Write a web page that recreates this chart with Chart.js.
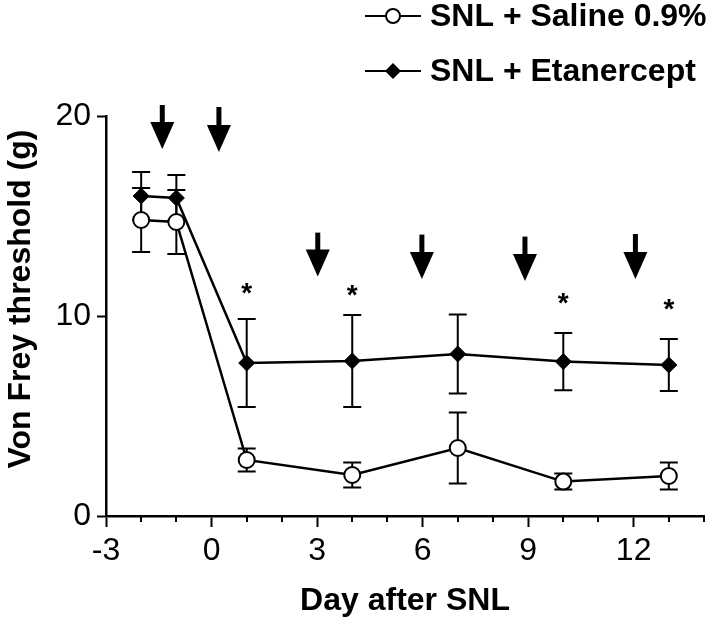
<!DOCTYPE html>
<html>
<head>
<meta charset="utf-8">
<script src="https://cdn.jsdelivr.net/npm/chart.js@4/dist/chart.umd.min.js"></script>
<style>
  html, body { margin: 0; padding: 0; background: #fff; }
  canvas { display: block; }
</style>
</head>
<body>
<canvas id="chart" width="720" height="626"></canvas>
<script>
// values
const days = [-2, -1, 1, 4, 7, 10, 13];
const saline = [14.8, 14.7, 2.8, 2.05, 3.4, 1.72, 2.0];
const salineErr = [1.6, 1.6, 0.57, 0.62, 1.77, 0.4, 0.68];
const etanercept = [16.0, 15.9, 7.65, 7.75, 8.1, 7.72, 7.55];
const etanerceptErr = [1.2, 1.15, 2.2, 2.3, 1.97, 1.43, 1.3];

const xTicks = [-3, 0, 3, 6, 9, 12];
const yTicks = [0, 10, 20];

// significance marks and injection arrows
const starDays = [1, 4, 10, 13];
const starLevels = [11.4, 11.27, 10.9, 10.6];
const arrowDays = [-1.4, 0.21, 3.02, 5.98, 8.91, 12.05];
const arrowTops = [20.55, 20.45, 14.17, 14.07, 13.97, 14.1];
const arrowTips = [18.35, 18.2, 11.97, 11.85, 11.75, 11.85];

const labels = ['SNL + Saline 0.9%', 'SNL + Etanercept'];
const errors = [salineErr, etanerceptErr];

const FONT = '"Liberation Sans", Arial, sans-serif';

const extras = {
  id: 'extras',
  beforeDatasetsDraw(chart) {
    const ctx = chart.ctx;
    const xs = chart.scales.x, ys = chart.scales.y;
    ctx.save();
    ctx.strokeStyle = '#000';
    ctx.lineWidth = 2;
    chart.data.datasets.forEach((ds, i) => {
      ds.data.forEach((pt, j) => {
        const px = xs.getPixelForValue(pt.x);
        const top = ys.getPixelForValue(pt.y + errors[i][j]);
        const bot = ys.getPixelForValue(pt.y - errors[i][j]);
        ctx.beginPath();
        ctx.moveTo(px, top); ctx.lineTo(px, bot);
        ctx.moveTo(px - 9, top); ctx.lineTo(px + 9, top);
        ctx.moveTo(px - 9, bot); ctx.lineTo(px + 9, bot);
        ctx.stroke();
      });
    });
    // minor ticks on x
    const yb = chart.chartArea.bottom;
    ctx.beginPath();
    for (let d = -3; d <= 14; d++) {
      if (xTicks.includes(d)) continue;
      const px = Math.round(xs.getPixelForValue(d));
      ctx.moveTo(px, yb); ctx.lineTo(px, yb + 6);
    }
    ctx.stroke();
    ctx.restore();
  },
  afterDatasetsDraw(chart) {
    const ctx = chart.ctx;
    const xs = chart.scales.x, ys = chart.scales.y;
    ctx.save();
    ctx.fillStyle = '#000';
    // arrows
    arrowDays.forEach((d, i) => {
      const px = xs.getPixelForValue(d);
      const top = ys.getPixelForValue(arrowTops[i]);
      const tip = ys.getPixelForValue(arrowTips[i]);
      const headStart = tip - 27;
      ctx.fillRect(px - 2.5, top, 5, headStart - top + 1);
      ctx.beginPath();
      ctx.moveTo(px - 12, headStart);
      ctx.lineTo(px + 12, headStart);
      ctx.lineTo(px, tip);
      ctx.closePath();
      ctx.fill();
    });
    // stars
    ctx.font = 'bold 28px ' + FONT;
    ctx.textAlign = 'center';
    ctx.textBaseline = 'middle';
    starDays.forEach((d, i) => {
      ctx.fillText('*', xs.getPixelForValue(d), ys.getPixelForValue(starLevels[i]) + 6);
    });
    // y title
    ctx.font = 'bold 32px ' + FONT;
    ctx.translate(21.5, 299);
    ctx.rotate(-Math.PI / 2);
    ctx.fillText('Von Frey threshold (g)', 0, 0);
    ctx.restore();

    // legend
    ctx.save();
    const rows = [16, 71];
    chart.data.datasets.forEach((ds, i) => {
      const y = rows[i];
      ctx.strokeStyle = '#000';
      ctx.lineWidth = 2;
      ctx.beginPath();
      ctx.moveTo(365, y); ctx.lineTo(421, y);
      ctx.stroke();
      const cx = 393;
      ctx.beginPath();
      if (ds.pointStyle === 'circle') {
        ctx.arc(cx, y, 7, 0, Math.PI * 2);
        ctx.fillStyle = '#fff';
        ctx.fill();
        ctx.stroke();
      } else {
        ctx.moveTo(cx, y - 8); ctx.lineTo(cx + 8, y);
        ctx.lineTo(cx, y + 8); ctx.lineTo(cx - 8, y);
        ctx.closePath();
        ctx.fillStyle = '#000';
        ctx.fill();
      }
      ctx.fillStyle = '#000';
      ctx.font = 'bold 32px ' + FONT;
      ctx.textAlign = 'left';
      ctx.textBaseline = 'middle';
      ctx.fillText(ds.label, 430, y + 1);
    });
    ctx.restore();
  }
};

new Chart(document.getElementById('chart').getContext('2d'), {
  type: 'line',
  data: {
    datasets: [
      {
        label: labels[0],
        data: saline.map((v, i) => ({ x: days[i], y: v })),
        borderColor: '#000',
        borderWidth: 2.5,
        pointStyle: 'circle',
        pointRadius: 8,
        pointBorderWidth: 2,
        pointBackgroundColor: '#fff',
        pointBorderColor: '#000',
        tension: 0
      },
      {
        label: labels[1],
        data: etanercept.map((v, i) => ({ x: days[i], y: v })),
        borderColor: '#000',
        borderWidth: 2.5,
        pointStyle: 'rectRot',
        pointRadius: 8,
        pointBorderWidth: 1,
        pointBackgroundColor: '#000',
        pointBorderColor: '#000',
        tension: 0
      }
    ]
  },
  options: {
    responsive: false,
    animation: false,
    devicePixelRatio: 1,
    layout: { padding: { top: 116, right: 16, left: 0, bottom: 0 } },
    plugins: { legend: { display: false }, tooltip: { enabled: false } },
    scales: {
      x: {
        type: 'linear',
        min: -3,
        max: 14,
        afterBuildTicks: (scale) => { scale.ticks = xTicks.map(v => ({ value: v })); },
        afterFit: (scale) => { scale.height = 110; },
        grid: { drawOnChartArea: false, drawTicks: true, tickLength: 11, tickWidth: 2, tickColor: '#000' },
        border: { display: true, color: '#000', width: 2.5 },
        ticks: { color: '#000', padding: 5, font: { family: FONT, size: 32 }, maxRotation: 0 },
        title: {
          display: true,
          text: 'Day after SNL',
          color: '#000',
          font: { family: FONT, size: 32, weight: 'bold' },
          padding: { top: 0, bottom: 6 }
        }
      },
      y: {
        type: 'linear',
        min: 0,
        max: 20,
        afterBuildTicks: (scale) => { scale.ticks = yTicks.map(v => ({ value: v })); },
        afterFit: (scale) => { scale.width = 106; },
        grid: { drawOnChartArea: false, drawTicks: true, tickLength: 9, tickWidth: 2, tickColor: '#000' },
        border: { display: true, color: '#000', width: 2.5 },
        ticks: { color: '#000', padding: 6, font: { family: FONT, size: 32 } }
      }
    }
  },
  plugins: [extras]
});
</script>
</body>
</html>
